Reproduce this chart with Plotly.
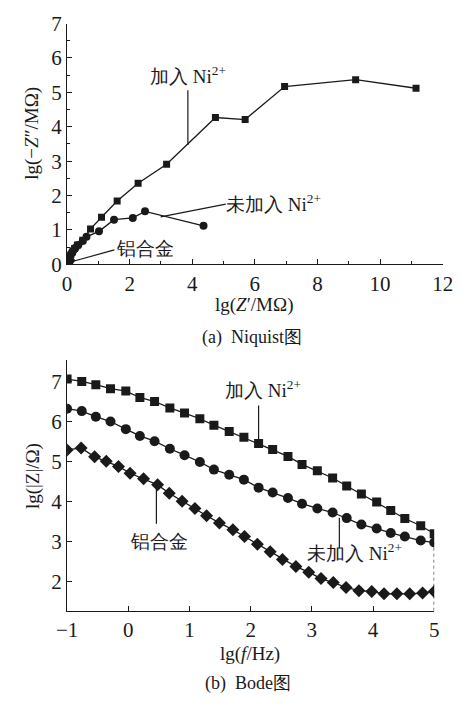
import plotly.graph_objects as go

# ---------------- (a) Nyquist data ----------------
nyq_ni_x = [0.02, 0.05, 0.08, 0.12, 0.17, 0.24, 0.33, 0.5, 0.75, 1.1, 1.6, 2.27, 3.18, 4.74, 5.69, 6.95, 9.22, 11.15]
nyq_ni_y = [0.05, 0.12, 0.2, 0.28, 0.36, 0.46, 0.56, 0.7, 1.03, 1.37, 1.84, 2.36, 2.91, 4.27, 4.21, 5.17, 5.37, 5.12]

nyq_no_x = [0.01, 0.03, 0.06, 0.1, 0.15, 0.2, 0.27, 0.36, 0.5, 0.62, 1.02, 1.5, 2.1, 2.49, 4.36]
nyq_no_y = [0.03, 0.1, 0.17, 0.25, 0.33, 0.4, 0.48, 0.56, 0.68, 0.8, 0.96, 1.3, 1.35, 1.54, 1.12]

nyq_al_x = [0.0, 0.01, 0.02, 0.03, 0.04, 0.06, 0.08]
nyq_al_y = [0.0, 0.02, 0.04, 0.06, 0.08, 0.1, 0.12]

# ---------------- (b) Bode data ----------------
bode_ni_x = [-1.0, -0.76, -0.53, -0.29, -0.04, 0.19, 0.43, 0.68, 0.92, 1.17, 1.40, 1.65, 1.89,
             2.13, 2.36, 2.61, 2.84, 3.09, 3.34, 3.57, 3.81, 4.06, 4.29, 4.52, 4.78, 5.0]
bode_ni_y = [7.06, 7.00, 6.92, 6.82, 6.76, 6.60, 6.50, 6.34, 6.21, 6.07, 5.91, 5.75, 5.61,
             5.45, 5.30, 5.13, 4.93, 4.77, 4.59, 4.39, 4.19, 3.99, 3.78, 3.58, 3.40, 3.20]

bode_no_x = bode_ni_x
bode_no_y = [6.32, 6.26, 6.12, 6.00, 5.81, 5.64, 5.51, 5.32, 5.16, 4.99, 4.80, 4.67, 4.55,
             4.35, 4.23, 4.09, 3.95, 3.83, 3.73, 3.59, 3.43, 3.33, 3.22, 3.13, 3.03, 2.98]

bode_al_x = [-1.0, -0.77, -0.55, -0.36, -0.16, 0.03, 0.25, 0.48, 0.67, 0.88, 1.09, 1.28, 1.49, 1.71, 1.90,
             2.11, 2.32, 2.52, 2.74, 2.95, 3.15, 3.35, 3.56, 3.77, 3.98, 4.18, 4.39, 4.60, 4.81, 5.0]
bode_al_y = [5.29, 5.34, 5.12, 5.01, 4.88, 4.71, 4.57, 4.42, 4.21, 4.01, 3.83, 3.65, 3.47, 3.30, 3.13,
             2.94, 2.75, 2.56, 2.38, 2.24, 2.08, 1.98, 1.86, 1.78, 1.76, 1.70, 1.70, 1.70, 1.72, 1.76]

FONT = "Liberation Serif"
LC = "#1a1a1a"

fig = go.Figure()

def add(x, y, sym, size, xa, ya):
    fig.add_trace(go.Scatter(x=x, y=y, mode="lines+markers", xaxis=xa, yaxis=ya,
                             line=dict(color=LC, width=1.3),
                             marker=dict(symbol=sym, size=size, color=LC, line=dict(width=0)),
                             showlegend=False, hoverinfo="skip"))

add(nyq_al_x, nyq_al_y, "diamond", 9, "x", "y")
add(nyq_no_x, nyq_no_y, "circle", 8, "x", "y")
add(nyq_ni_x, nyq_ni_y, "square", 7, "x", "y")

add(bode_al_x, bode_al_y, "diamond", 10, "x2", "y2")
add(bode_no_x, bode_no_y, "circle", 10, "x2", "y2")
add(bode_ni_x, bode_ni_y, "square", 9, "x2", "y2")

axis_common = dict(showline=True, linecolor=LC, linewidth=1.3, ticks="inside", tickcolor=LC,
                   tickwidth=1.2, ticklen=5, showgrid=False, zeroline=False,
                   tickfont=dict(family=FONT, size=21, color=LC), mirror=False)

fig.update_layout(
    width=466, height=706, margin=dict(l=0, r=0, t=0, b=0),
    paper_bgcolor="white", plot_bgcolor="white",
    font=dict(family=FONT, color=LC),
    xaxis=dict(domain=[0.126, 0.970], range=[0, 12], dtick=2, tick0=0,
               minor=dict(dtick=1, ticks="inside", ticklen=3, tickcolor=LC), anchor="y", **axis_common),
    yaxis=dict(domain=[0.630, 0.983], range=[0, 7], dtick=1, tick0=0,
               minor=dict(dtick=0.5, ticks="inside", ticklen=3, tickcolor=LC), anchor="x", **axis_common),
    xaxis2=dict(domain=[0.126, 0.951], range=[-1, 5], dtick=1, tick0=-1, anchor="y2", **axis_common),
    yaxis2=dict(domain=[0.122, 0.490], range=[1.277, 7.54], tickvals=[2, 3, 4, 5, 6, 7], anchor="x2",
                **axis_common),
)

def note(text, x, y, xref, yref, size=19, angle=0):
    fig.add_annotation(text=text, x=x, y=y, xref=xref, yref=yref, showarrow=False, textangle=angle,
                       font=dict(family=FONT, size=size, color=LC), xanchor="center", yanchor="middle")

def lead(x0, y0, x1, y1, xref, yref, dash="solid"):
    fig.add_shape(type="line", x0=x0, y0=y0, x1=x1, y1=y1, xref=xref, yref=yref,
                  line=dict(color=LC, width=1.2, dash=dash))

# (a) annotations
note("加入 Ni<sup>2+</sup>", 3.86, 5.5, "x", "y")
lead(3.86, 5.06, 3.86, 3.47, "x", "y")
note("未加入 Ni<sup>2+</sup>", 6.6, 1.78, "x", "y")
lead(5.07, 1.75, 2.99, 1.38, "x", "y")
note("铝合金", 2.5, 0.47, "x", "y")
lead(1.51, 0.42, 0.14, 0.075, "x", "y")

# (b) annotations
note("加入 Ni<sup>2+</sup>", 2.2, 6.8, "x2", "y2")
lead(2.13, 6.4, 2.13, 5.45, "x2", "y2")
note("未加入 Ni<sup>2+</sup>", 3.7, 2.74, "x2", "y2")
lead(3.45, 3.6, 3.45, 2.84, "x2", "y2")
note("铝合金", 0.5, 3.0, "x2", "y2")
lead(0.46, 4.35, 0.46, 3.45, "x2", "y2")
lead(bode_no_x[-1], 1.277, bode_no_x[-1], bode_no_y[-1], "x2", "y2", dash="dot")

# axis titles and captions
note("lg(−<i>Z</i>″/MΩ)", 0.048, 0.822, "paper", "paper", angle=-90)
note("lg(<i>Z</i>′/MΩ)", 0.545, 0.571, "paper", "paper")
note("(a)  Niquist图", 0.542, 0.523, "paper", "paper", size=18)

note("lg(|Z|/Ω)", 0.048, 0.32, "paper", "paper", angle=-90)
note("lg(<i>f</i>/Hz)", 0.537, 0.058, "paper", "paper")
note("(b)  Bode图", 0.532, 0.016, "paper", "paper", size=18)

fig.write_html("out.html")
